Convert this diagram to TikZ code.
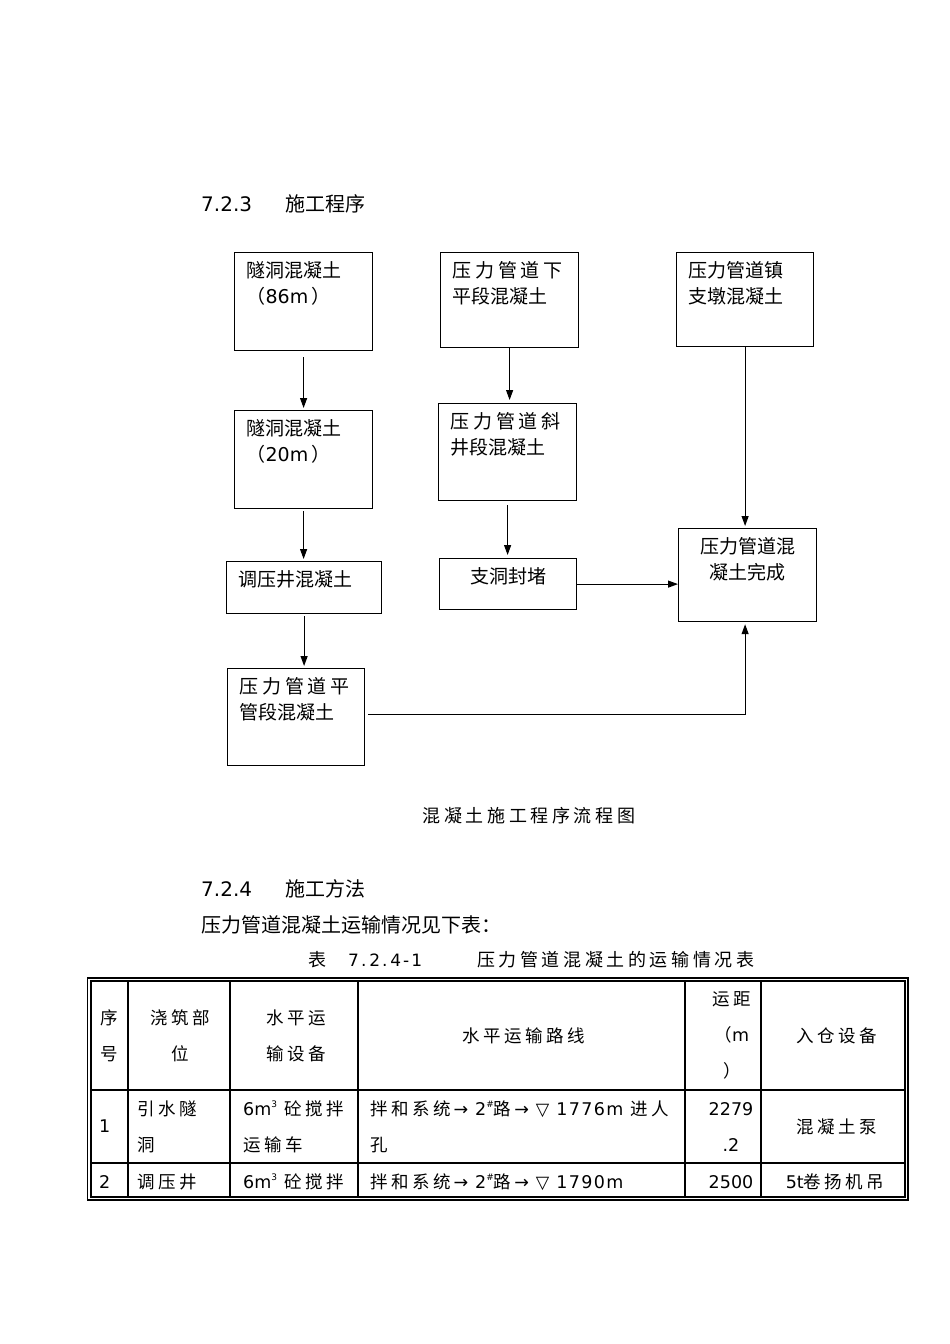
\documentclass[tikz,border=0pt]{standalone}
\usepackage{fontspec}
\setmainfont{DejaVu Sans}
\newfontfamily\cjk{Noto Sans CJK SC}
\newfontfamily\cjkwide{Noto Sans CJK SC}[LetterSpace=20]
\newfontfamily\latwide{DejaVu Sans}[LetterSpace=12]
\newfontfamily\latsp{DejaVu Sans}[LetterSpace=8]
\usetikzlibrary{arrows.meta,positioning}

\newcommand\lat[1]{{\rmfamily #1}}
\newcommand\route[1]{{\latsp #1}}
\newcommand\sups[1]{\raisebox{0.45em}{\fontsize{9}{9}\selectfont\rmfamily #1}}
\newcommand\stagebox[3]{\parbox[c][#2pt][t]{#1pt}{#3}}

\tikzset{
  stage/.style={draw, line width=1.2pt, anchor=north west, inner xsep=12pt, inner ysep=9pt,
    font=\fontsize{19}{26}\selectfont\cjk},
  flow/.style={line width=1.1pt, -{Triangle[length=10pt,width=7pt]}},
  txt/.style={inner sep=0pt, anchor=west},
  heading/.style={txt, font=\fontsize{20}{24}\selectfont\cjk},
  cell/.style={inner sep=0pt, font=\fontsize{17.5}{36}\selectfont\cjkwide},
  grid/.style={line width=1.2pt}
}

\begin{document}
\begin{tikzpicture}[x=1pt,y=-1pt]
\useasboundingbox (0,0) rectangle (950,1344);

% section 7.2.3
\node[heading] (num723) at (201,204) {\lat{7.2.3}};
\node[heading] (ttl723) at (285,204) {施工程序};

% flow chart
\node[stage] (tun86)  at (234,252) {\stagebox{114}{80}{隧洞混凝土\\（\lat{86m\,}）}};
\node[stage] (lowseg) at (440,252) {\stagebox{114}{77}{{\cjkwide 压力管道下}\\平段混凝土}};
\node[stage] (pier)   at (676,252) {\stagebox{113}{76}{压力管道镇\\支墩混凝土}};
\node[stage] (tun20)  at (234,410) {\stagebox{114}{80}{隧洞混凝土\\（\lat{20m\,}）}};
\node[stage] (incl)   at (438,403) {\stagebox{114}{79}{{\cjkwide 压力管道斜}\\井段混凝土}};
\node[stage] (surge)  at (226,561) {\stagebox{131}{34}{调压井混凝土}};
\node[stage] (plug)   at (439,558) {\stagebox{113}{33}{\centering 支洞封堵}};
\node[stage] (done)   at (678,528) {\stagebox{114}{75}{\centering 压力管道混\\凝土完成}};
\node[stage] (flat)   at (227,668) {\stagebox{113}{79}{{\cjkwide 压力管道平}\\管段混凝土}};

\draw[flow, shorten <=6pt, shorten >=2pt] (tun86.south) -- (tun86.south |- tun20.north);
\draw[flow, shorten >=3pt] (lowseg.south) -- (lowseg.south |- incl.north);
\draw[flow, shorten >=2pt] (pier.south) -- (pier.south |- done.north);
\draw[flow, shorten <=2pt, shorten >=2pt] (tun20.south) -- (tun20.south |- surge.north);
\draw[flow, shorten <=4pt, shorten >=3pt] (incl.south) -- (incl.south |- plug.north);
\draw[flow, shorten <=2pt, shorten >=2pt] (surge.south) -- (surge.south |- flat.north);
\draw[flow] (plug.east) -- (plug.east -| done.west);
\draw[flow, shorten <=3pt, shorten >=2pt] ([yshift=2.5pt]flat.east) -| (pier.south |- done.south);

\node[inner sep=0pt, font=\fontsize{18}{20}\selectfont\cjkwide] (caption) at (529,816) {混凝土施工程序流程图};

% section 7.2.4
\node[heading] (num724) at (201,889) {\lat{7.2.4}};
\node[heading] (ttl724) at (285,889) {施工方法};
\node[heading] (intro) at (201,925) {压力管道混凝土运输情况见下表：};
\node[txt, font=\fontsize{18}{20}\selectfont\cjk] (tabword) at (308,960) {表};
\node[txt, font=\fontsize{17}{20}\selectfont\latwide] (tabnum) at (348,960) {7.\,2.\,4-1};
\node[txt, font=\fontsize{18}{20}\selectfont\cjkwide] (tabttl) at (477,960) {压力管道混凝土的运输情况表};

% table
\draw[grid] (87.5,978) rectangle (908,1200);
\draw[grid] (91,981) rectangle (905,1197);
\foreach \cx in {128,230,358,685,761}
  \draw[grid] (\cx,981) -- (\cx,1197);
\foreach \ry in {1090,1163}
  \draw[grid] (91,\ry) -- (905,\ry);

\node[cell, align=center] (hno)    at (109.5,1035.5) {序\\号};
\node[cell, align=center] (hpart)  at (180,1035.5) {浇筑部\\位};
\node[cell, align=center] (hequip) at (296,1035.5) {水平运\\输设备};
\node[cell] (hroute) at (524,1036) {水平运输路线};
\node[cell, align=center] (hdist)  at (732,1035) {运距\\（\lat{m}\\）};
\node[cell] (hin) at (837,1036) {入仓设备};

\node[cell, txt] (no1) at (99,1126) {\lat{1}};
\node[cell, txt, align=left] (part1) at (137,1127) {引水隧\\洞};
\node[cell, txt, align=left] (equip1) at (243,1127) {\lat{6m}\sups{3} 砼搅拌\\运输车};
\node[cell, txt, align=left] (route1) at (370,1127)
  {拌和系统\route{\,→ 2}\sups{\#}路\route{\,→ ▽ 1776m }进人\\孔};
\node[cell, align=center] (dist1) at (731,1127) {\lat{2279}\\\lat{.2}};
\node[cell] (in1) at (837,1127) {混凝土泵};

\node[cell, txt] (no2) at (99,1182) {\lat{2}};
\node[cell, txt] (part2) at (137,1182) {调压井};
\node[cell, txt] (equip2) at (243,1182) {\lat{6m}\sups{3} 砼搅拌};
\node[cell, txt] (route2) at (370,1182) {拌和系统\route{\,→ 2}\sups{\#}路\route{\,→ ▽ 1790m}};
\node[cell] (dist2) at (731,1182) {\lat{2500}};
\node[cell] (in2) at (835,1182) {\lat{5t}卷扬机吊};
\end{tikzpicture}
\end{document}
